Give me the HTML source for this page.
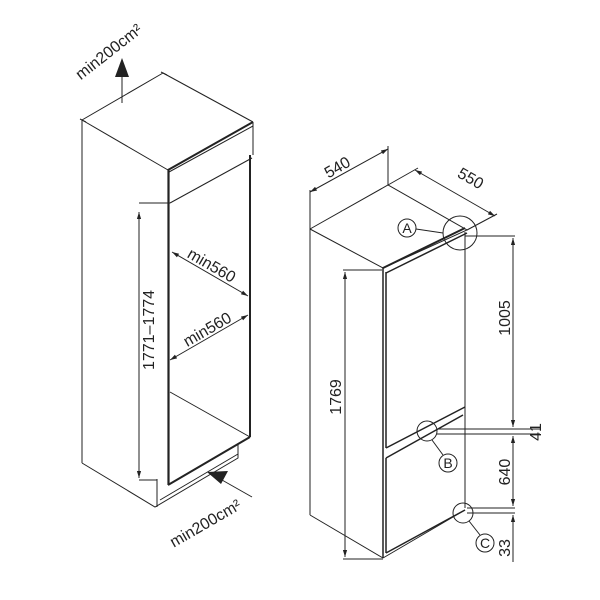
<!DOCTYPE html>
<html><head><meta charset="utf-8"><style>
html,body{margin:0;padding:0;background:#fff;width:600px;height:600px;overflow:hidden}
text{font-family:"Liberation Sans",sans-serif;fill:#222}
</style></head><body>
<svg width="600" height="600" viewBox="0 0 600 600" xmlns="http://www.w3.org/2000/svg">
<defs>
<marker id="ar" viewBox="0 0 10 10" refX="10" refY="5" markerWidth="7" markerHeight="7" orient="auto-start-reverse"><path d="M0,2 L10,5 L0,8 z" fill="#222"/></marker>
</defs>
<g stroke="#222" stroke-width="1" fill="none">
<polyline points="82,463 82,120 163,73"/>
<line x1="82" y1="120" x2="168" y2="170"/>
<line x1="163" y1="73" x2="253" y2="122"/>
<line x1="161" y1="72" x2="167" y2="75"/>
<line x1="80" y1="119" x2="86" y2="122"/>
<line x1="168" y1="170" x2="253" y2="122" stroke-width="2"/>
<line x1="169" y1="172" x2="253" y2="126"/>
<line x1="253" y1="122" x2="253" y2="155"/>
<line x1="170" y1="203" x2="252" y2="158"/>
<line x1="168.5" y1="170" x2="168.5" y2="485" stroke-width="2.2"/>
<line x1="250" y1="155" x2="250" y2="437" stroke-width="2"/>
<line x1="168" y1="485" x2="250" y2="437" stroke-width="2"/>
<line x1="170" y1="392" x2="250" y2="437"/>
<polyline points="82,463 155,507 238,458 238,445"/>
<line x1="157" y1="479" x2="157" y2="507"/>
<line x1="160" y1="500" x2="238" y2="454"/>
<line x1="139" y1="203" x2="170" y2="203"/>
<line x1="139" y1="480" x2="157" y2="480"/>
<line x1="139" y1="212" x2="139" y2="478" marker-start="url(#ar)" marker-end="url(#ar)"/>
<line x1="172" y1="252" x2="248" y2="296" marker-start="url(#ar)" marker-end="url(#ar)"/>
<line x1="248" y1="315" x2="170" y2="360" marker-start="url(#ar)" marker-end="url(#ar)"/>
<line x1="122" y1="103" x2="122" y2="72"/>
<line x1="252" y1="497" x2="222" y2="480"/>
<polyline points="310,229 388,185 467,230 383,268 310,229"/>
<line x1="310" y1="229" x2="310" y2="515"/>
<line x1="310" y1="515" x2="383" y2="558"/>
<line x1="383" y1="268" x2="383" y2="558" stroke-width="1.5"/>
<line x1="465" y1="232" x2="465" y2="508"/>
<line x1="383" y1="268" x2="465" y2="228" stroke-width="2"/>
<line x1="386" y1="273" x2="467" y2="233" stroke-width="1.5"/>
<line x1="386" y1="272" x2="386" y2="448" stroke-width="1.5"/>
<line x1="386" y1="448" x2="465" y2="407" stroke-width="1.5"/>
<line x1="386" y1="458" x2="463" y2="415" stroke-width="1.5"/>
<line x1="386" y1="458" x2="386" y2="553" stroke-width="1.5"/>
<line x1="386" y1="553" x2="465" y2="510" stroke-width="1.5"/>
<line x1="383" y1="558" x2="465" y2="510"/>
<line x1="310" y1="190" x2="310" y2="229"/>
<line x1="388" y1="146" x2="388" y2="185"/>
<line x1="310" y1="192" x2="388" y2="149" marker-start="url(#ar)" marker-end="url(#ar)"/>
<line x1="388" y1="185" x2="418" y2="168"/>
<line x1="467" y1="230" x2="497" y2="214"/>
<line x1="415" y1="170" x2="495" y2="216" marker-start="url(#ar)" marker-end="url(#ar)"/>
<line x1="343" y1="270" x2="382" y2="270"/>
<line x1="343" y1="559" x2="383" y2="559"/>
<line x1="345" y1="272" x2="345" y2="557" marker-start="url(#ar)" marker-end="url(#ar)"/>
<line x1="465" y1="236" x2="515" y2="236"/>
<line x1="437" y1="429" x2="540" y2="429"/>
<line x1="437" y1="434" x2="540" y2="434"/>
<line x1="467" y1="508" x2="515" y2="508"/>
<line x1="467" y1="513" x2="515" y2="513"/>
<line x1="513" y1="238" x2="513" y2="427" marker-start="url(#ar)" marker-end="url(#ar)"/>
<line x1="513" y1="436" x2="513" y2="506" marker-start="url(#ar)" marker-end="url(#ar)"/>
<line x1="513" y1="515" x2="513" y2="562" marker-start="url(#ar)"/>
<circle cx="407" cy="228" r="9"/>
<line x1="416" y1="229" x2="443" y2="233"/>
<circle cx="460" cy="233" r="17"/>
<circle cx="427" cy="431" r="10"/>
<line x1="432" y1="440" x2="443" y2="455"/>
<circle cx="448" cy="463" r="9"/>
<circle cx="463" cy="513" r="10"/>
<line x1="469" y1="521" x2="480" y2="535"/>
<circle cx="485" cy="543" r="9"/>
</g>
<path d="M122,58 L115,77 L129,77 z" fill="#222"/>
<path d="M207,472 L228,471 L221,484 z" fill="#222"/>
<g font-size="16">
<text x="112" y="56" transform="rotate(-38 112 56)" text-anchor="middle">min200cm²</text>
<text x="208" y="528" transform="rotate(-30 208 528)" text-anchor="middle">min200cm²</text>
<text x="209" y="270" transform="rotate(30 209 270)" text-anchor="middle">min560</text>
<text x="210" y="334" transform="rotate(-30 210 334)" text-anchor="middle">min560</text>
<text x="154" y="330" transform="rotate(-90 154 330)" text-anchor="middle">1771–1774</text>
<text x="340" y="172" transform="rotate(-30 340 172)" text-anchor="middle">540</text>
<text x="468" y="183" transform="rotate(30 468 183)" text-anchor="middle">550</text>
<text x="341" y="397" transform="rotate(-90 341 397)" text-anchor="middle">1769</text>
<text x="510" y="318" transform="rotate(-90 510 318)" text-anchor="middle">1005</text>
<text x="541" y="432" transform="rotate(-90 541 432)" text-anchor="middle">41</text>
<text x="510" y="472" transform="rotate(-90 510 472)" text-anchor="middle">640</text>
<text x="510" y="548" transform="rotate(-90 510 548)" text-anchor="middle">33</text>
<text x="407" y="233" font-size="14" text-anchor="middle">A</text>
<text x="448" y="468" font-size="14" text-anchor="middle">B</text>
<text x="485" y="548" font-size="14" text-anchor="middle">C</text>
</g>
</svg>
</body></html>
